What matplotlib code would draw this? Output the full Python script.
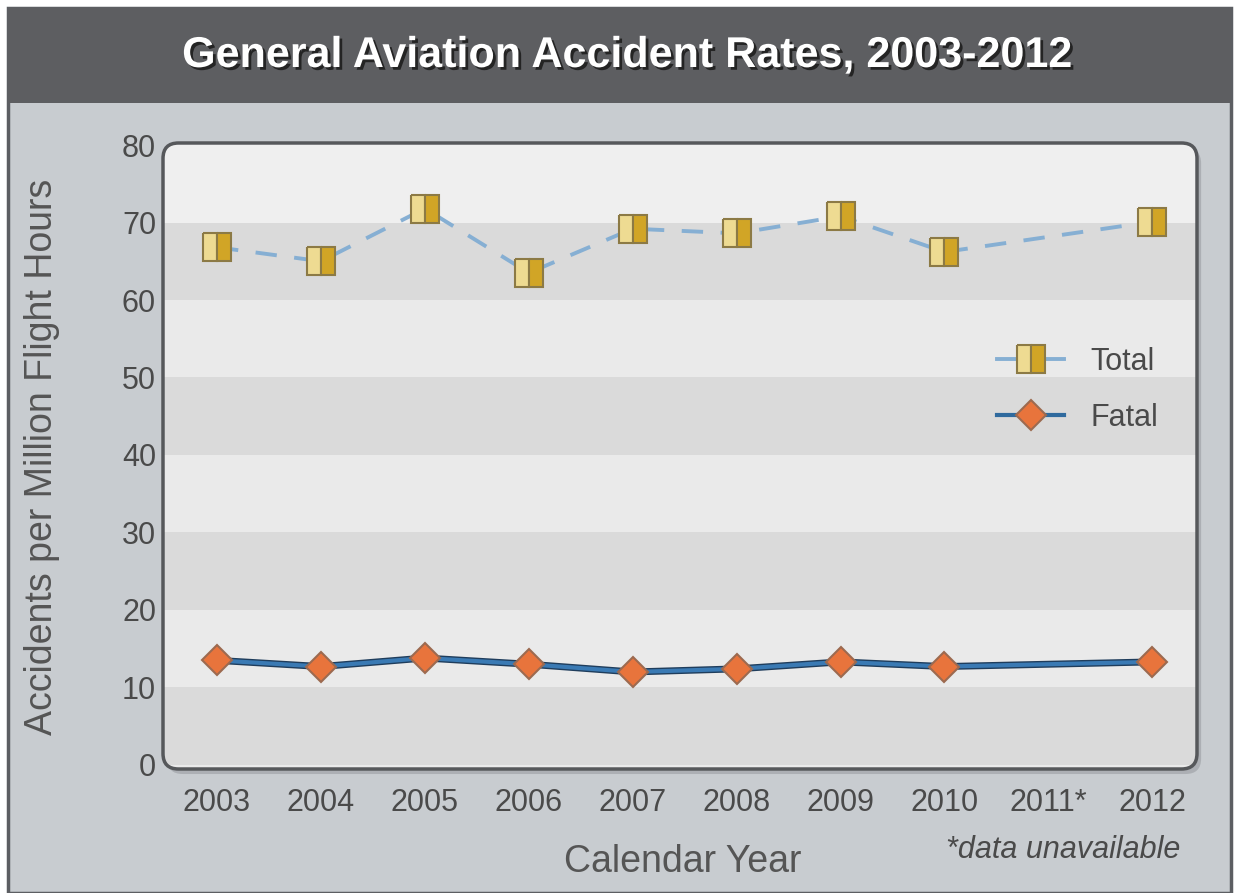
import numpy as np
import matplotlib
matplotlib.use("Agg")
import matplotlib.pyplot as plt
import matplotlib.patheffects as pe
from matplotlib.patches import FancyBboxPatch, Rectangle
from matplotlib.lines import Line2D

# -----------------------------------------------------
# Data
# -----------------------------------------------------
years = [2003, 2004, 2005, 2006, 2007, 2008, 2009, 2010, 2011, 2012]
year_labels = ['2003', '2004', '2005', '2006', '2007', '2008', '2009', '2010', '2011*', '2012']
total_rate = [66.8, 65.0, 71.8, 63.5, 69.2, 68.6, 70.8, 66.2, np.nan, 70.1]
fatal_rate = [13.5, 12.7, 13.8, 13.0, 12.0, 12.4, 13.3, 12.7, np.nan, 13.3]
y_ticks = [0, 10, 20, 30, 40, 50, 60, 70, 80]
dark_bands = [(0, 10), (20, 30), (40, 50), (60, 70)]

plt.rcParams['font.family'] = ['Liberation Sans', 'DejaVu Sans']

W, H = 1239, 893
fig = plt.figure(figsize=(W / 100, H / 100), dpi=100)
fig.patch.set_facecolor('white')

# silver panel + dark title bar (behind the axes)
fig.patches.append(Rectangle((8 / W, 0), (W - 16) / W, (H - 8) / H, transform=fig.transFigure,
                             facecolor='#c8ccd0', edgecolor='#5c5e62', lw=2.5, zorder=-10))
fig.patches.append(Rectangle((8 / W, 1 - 103 / H), (W - 16) / W, 95 / H, transform=fig.transFigure,
                             facecolor='#5d5e61', edgecolor='none', zorder=-9))

fig.text(626 / W, 1 - 56 / H, "General Aviation Accident Rates, 2003-2012", color='white',
         fontsize=31, fontweight='bold', ha='center', va='center',
         path_effects=[pe.SimplePatchShadow(offset=(2, -2), shadow_rgbFace='#1e1e1e', alpha=0.9),
                       pe.Normal()])

# -----------------------------------------------------
# Plot area
# -----------------------------------------------------
ax_left, ax_right, ax_top, ax_bottom = 163, 1197, 143, 769
ax = fig.add_axes([ax_left / W, 1 - ax_bottom / H, (ax_right - ax_left) / W, (ax_bottom - ax_top) / H])
ax.set_facecolor('none')
for s in ax.spines.values():
    s.set_visible(False)

aspect = (ax_right - ax_left) / (ax_bottom - ax_top)
box_style = "round,pad=0,rounding_size=0.015"
shadow = FancyBboxPatch((0.004, -0.008), 1, 1, boxstyle=box_style,
                        mutation_aspect=aspect, transform=ax.transAxes,
                        facecolor='#9a9da2', edgecolor='none', alpha=0.6, zorder=0, clip_on=False)
ax.add_patch(shadow)
box = FancyBboxPatch((0, 0), 1, 1, boxstyle=box_style,
                     mutation_aspect=aspect, transform=ax.transAxes,
                     facecolor='#eaeaea', edgecolor='none', zorder=1, clip_on=False)
ax.add_patch(box)

for lo, hi in dark_bands:
    band = ax.axhspan(lo, hi, color='#dadada', lw=0, zorder=1.5)
    band.set_clip_path(box)
top_band = ax.axhspan(70, 81, color='#efefef', lw=0, zorder=1.5)
top_band.set_clip_path(box)

# border drawn over the bands
border = FancyBboxPatch((0, 0), 1, 1, boxstyle=box_style,
                        mutation_aspect=aspect, transform=ax.transAxes,
                        facecolor='none', edgecolor='#56585b', lw=2.5, zorder=2, clip_on=False)
ax.add_patch(border)

yrs = np.array(years)
tot = np.array(total_rate)
fat = np.array(fatal_rate)
m_t = ~np.isnan(tot)
m_f = ~np.isnan(fat)

# Total: dashed light blue with gold squares
ax.plot(yrs[m_t], tot[m_t], color='#86afd3', lw=2.8, ls=(0, (5.5, 4.5)), zorder=3)
ax.plot(yrs[m_t], tot[m_t], ls='none', marker='s', ms=20, fillstyle='left',
        mfc='#eedb92', mfcalt='#d1a526', mec='#8c7a45', mew=1.5, zorder=4)

# Fatal: solid blue with orange diamonds
ax.plot(yrs[m_f], fat[m_f], color='#3a7ab4', lw=3, zorder=3,
        path_effects=[pe.Stroke(linewidth=5, foreground='#1f3d5c'), pe.Normal()])
ax.plot(yrs[m_f], fat[m_f], ls='none', marker='D', ms=15.5,
        mfc='#e8743c', mec='#9c6a50', mew=1.5, zorder=4)

ax.set_xlim(2002.48, 2012.43)
ax.set_ylim(-0.52, 80.26)
ax.set_xticks(years)
ax.set_xticklabels(year_labels)
ax.set_yticks(y_ticks)
ax.tick_params(axis='both', length=0, labelsize=22, labelcolor='#4a4a4a')
ax.tick_params(axis='x', pad=14)
ax.tick_params(axis='y', pad=5)

# legend
handles = [
    Line2D([], [], color='#86afd3', lw=2.8, marker='s', ms=20, fillstyle='left',
           mfc='#eedb92', mfcalt='#d1a526', mec='#8c7a45', mew=1.5),
    Line2D([], [], color='#2f6a9e', lw=3, marker='D', ms=15.5,
           mfc='#e8743c', mec='#9c6a50', mew=1.5),
]
leg = ax.legend(handles, ['Total', 'Fatal'], loc='center left',
                bbox_to_anchor=(997 / W, 1 - 390 / H), bbox_transform=fig.transFigure,
                frameon=False, fontsize=22, handlelength=2.2, handletextpad=0.85,
                borderpad=0, borderaxespad=0, labelspacing=0.85)
leg.set_zorder(5)
for t in leg.get_texts():
    t.set_color('#4a4a4a')

# axis titles and footnote
fig.text(42 / W, 1 - 457 / H, "Accidents per Million Flight Hours", rotation=90,
         fontsize=27, color='#555555', ha='center', va='center')
fig.text(683 / W, 1 - 862 / H, "Calendar Year", fontsize=27, color='#555555',
         ha='center', va='center')
fig.text(1180 / W, 1 - 850 / H, "*data unavailable", fontsize=22, color='#4a4a4a',
         style='italic', ha='right', va='center')

fig.savefig("out.png", dpi=100)
